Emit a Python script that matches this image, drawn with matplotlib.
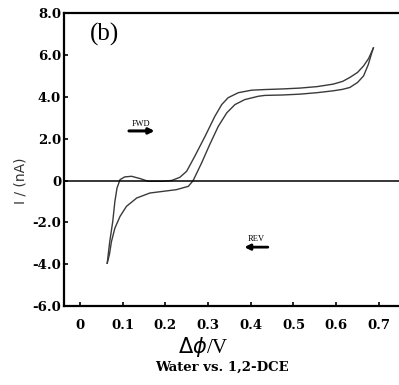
import matplotlib
matplotlib.use("Agg")
import matplotlib.pyplot as plt

# === Data (potential in V, current in nA) ===
# branch through the small hump near 0.12 V, then upper plateau up to the turning point
upper_v = [0.064, 0.070, 0.077, 0.082, 0.087, 0.094, 0.105, 0.121, 0.141, 0.160,
           0.195, 0.215, 0.234, 0.250, 0.269, 0.293, 0.316, 0.332, 0.347, 0.371,
           0.402, 0.433, 0.475, 0.515, 0.555, 0.593, 0.615, 0.632, 0.650, 0.664,
           0.676, 0.687]
upper_i = [-3.95, -2.91, -1.95, -0.99, -0.35, 0.05, 0.18, 0.21, 0.10, -0.03,
           -0.03, 0.01, 0.16, 0.45, 1.17, 2.12, 3.08, 3.64, 3.97, 4.21,
           4.33, 4.36, 4.39, 4.43, 4.5, 4.62, 4.75, 4.94, 5.18, 5.49,
           5.85, 6.35]
# lower plateau back down, then the branch under the zero line back to the tip
lower_v = [0.687, 0.683, 0.675, 0.664, 0.650, 0.632, 0.615, 0.593, 0.555, 0.515,
           0.475, 0.433, 0.418, 0.386, 0.363, 0.344, 0.324, 0.304, 0.285, 0.265,
           0.254, 0.226, 0.195, 0.164, 0.133, 0.109, 0.094, 0.082, 0.074, 0.069,
           0.064]
lower_i = [6.35, 6.1, 5.55, 5.01, 4.7, 4.46, 4.37, 4.3, 4.21, 4.14,
           4.1, 4.08, 4.04, 3.88, 3.64, 3.25, 2.6, 1.73, 0.85, 0.0,
           -0.27, -0.43, -0.51, -0.59, -0.83, -1.23, -1.71, -2.27, -2.91, -3.55,
           -3.95]

x_ticks = [0, 0.1, 0.2, 0.3, 0.4, 0.5, 0.6, 0.7]
x_labels = ["0", "0.1", "0.2", "0.3", "0.4", "0.5", "0.6", "0.7"]
y_ticks = [-6, -4, -2, 0, 2, 4, 6, 8]
y_labels = ["-6.0", "-4.0", "-2.0", "0", "2.0", "4.0", "6.0", "8.0"]

serif = ["DejaVu Serif"]
times = ["Liberation Serif", "DejaVu Serif"]

fig = plt.figure(figsize=(3.99, 3.85), dpi=100)
ax = fig.add_axes([0.160, 0.205, 0.840, 0.760])

curve_col = "#3a3a3a"
ax.plot(upper_v, upper_i, color=curve_col, lw=1.0)
ax.plot(lower_v, lower_i, color=curve_col, lw=1.0)
ax.axhline(0, color="black", lw=1.1)

ax.set_xlim(-0.0375, 0.747)
ax.set_ylim(-6, 8)
ax.spines["right"].set_visible(False)
for s in ["left", "bottom", "top"]:
    ax.spines[s].set_linewidth(1.6)

ax.set_xticks(x_ticks)
ax.set_xticklabels(x_labels, fontfamily=serif, fontweight="bold", fontsize=9.5)
ax.set_yticks(y_ticks)
ax.set_yticklabels(y_labels, fontfamily=serif, fontweight="bold", fontsize=9.5)
ax.tick_params(direction="in", length=3, width=1.2)
ax.tick_params(axis="x", pad=9)
ax.tick_params(axis="y", pad=2)

# labels
ax.text(-0.138, 0.0, "I / (nA)", rotation=90,
        ha="center", va="center", fontsize=10, color="#333333",
        fontfamily=["DejaVu Sans"])
fig.text(0.51, 0.098, r"$\mathit{\Delta\phi}$/V", ha="center", va="center",
         fontsize=15, fontfamily=times)
fig.text(0.556, 0.045, "Water vs. 1,2-DCE", ha="center", va="center",
         fontsize=9.5, fontweight="bold", fontfamily=serif)

# panel tag and scan direction marks
ax.text(0.058, 7.0, "(b)", ha="center", va="center", fontsize=18, fontfamily=times)
ax.text(0.143, 2.72, "FWD", ha="center", va="center", fontsize=6, fontfamily=times)
ax.annotate("", xy=(0.175, 2.38), xytext=(0.115, 2.38),
            arrowprops=dict(arrowstyle="-|>", lw=2.2, color="black",
                            mutation_scale=8, shrinkA=0, shrinkB=0))
ax.text(0.413, -2.8, "REV", ha="center", va="center", fontsize=6, fontfamily=times)
ax.annotate("", xy=(0.385, -3.18), xytext=(0.44, -3.18),
            arrowprops=dict(arrowstyle="-|>", lw=2.0, color="black",
                            mutation_scale=8, shrinkA=0, shrinkB=0))

fig.savefig("out.png", dpi=100)
